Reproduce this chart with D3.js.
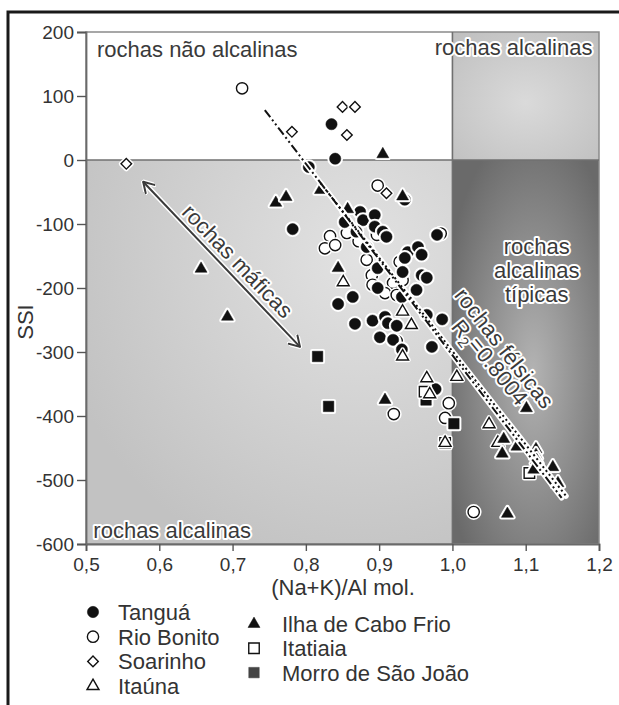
<!DOCTYPE html>
<html>
<head>
<meta charset="utf-8">
<script src="https://cdn.jsdelivr.net/npm/d3@7"></script>
<style>
  body { margin: 0; background: #fff; }
  svg { display: block; font-family: "Liberation Sans", Arial, sans-serif; }
</style>
</head>
<body>
<svg id="chart" width="619" height="705"></svg>
<script>
// tick values
const xTicks = [0.5, 0.6, 0.7, 0.8, 0.9, 1.0, 1.1, 1.2];
const yTicks = [200, 100, 0, -100, -200, -300, -400, -500, -600];

// samples, [ (Na+K)/Al , SSI ]
const tangua = [
  [0.835, 56], [0.840, 2], [0.804, -11], [0.782, -108], [0.874, -81], [0.878, -94],
  [0.894, -86], [0.894, -104], [0.905, -112], [0.910, -120], [0.853, -97], [0.869, -112],
  [0.935, -62], [0.979, -117], [0.883, -136], [0.939, -144], [0.953, -136], [0.958, -148],
  [0.935, -153], [0.898, -169], [0.932, -175], [0.958, -180], [0.965, -184], [0.898, -200],
  [0.931, -214], [0.951, -203], [0.844, -225], [0.864, -214], [0.867, -256], [0.891, -251],
  [0.908, -245], [0.912, -255], [0.924, -259], [0.901, -277], [0.919, -281], [0.931, -296],
  [0.965, -242], [0.986, -249], [0.972, -292], [0.977, -358]
];
const rioBonito = [
  [0.713, 112], [0.898, -40], [0.856, -114], [0.833, -119], [0.826, -138], [0.840, -133],
  [0.872, -127], [0.897, -117], [0.984, -115], [0.883, -156], [0.928, -159], [0.890, -180],
  [0.891, -195], [0.919, -192], [0.932, -188], [0.908, -208], [0.924, -211], [0.924, -283],
  [0.920, -397], [0.995, -380], [0.990, -403], [1.029, -550]
];
const soarinho = [
  [0.555, -6], [0.781, 44], [0.850, 83], [0.867, 83], [0.856, 39], [0.910, -52]
];
const itauna = [
  [0.851, -191], [0.932, -237], [0.944, -258], [0.932, -307], [0.965, -341], [1.006, -339],
  [0.969, -366], [0.990, -442], [1.050, -413], [1.062, -442]
];
const caboFrio = [
  [0.759, -67], [0.773, -58], [0.657, -170], [0.693, -245], [0.905, 9], [0.820, -47],
  [0.857, -77], [0.932, -57], [0.844, -169], [0.908, -375], [1.101, -388], [1.070, -436],
  [1.068, -459], [1.088, -448], [1.114, -452], [1.114, -461], [1.115, -469], [1.111, -484],
  [1.137, -480], [1.144, -505], [1.075, -553]
];
const itatiaia = [
  [0.962, -362], [0.990, -442], [1.105, -489]
];
const morro = [
  [0.816, -307], [0.831, -385], [0.964, -375], [1.002, -412]
];

// trend lines and the mafic arrow
const trendMain = [[0.744, 78], [1.149, -528]];
const trendDotted = [[0.82, -36], [1.155, -525]];
const maficArrow = [[0.578, -34], [0.792, -292]];

const svg = d3.select("#chart");
const x = d3.scaleLinear().domain([0.5, 1.2]).range([86, 599]);
const y = d3.scaleLinear().domain([-600, 200]).range([544, 32]);

const defs = svg.append("defs");
function radial(id, cx, cy, r, stops) {
  const g = defs.append("radialGradient").attr("id", id)
    .attr("cx", cx).attr("cy", cy).attr("r", r);
  stops.forEach(s => g.append("stop").attr("offset", s[0]).attr("stop-color", s[1]));
}
radial("gLL", "75%", "25%", "85%", [[0, "#e2e2e2"], [1, "#c2c2c2"]]);
radial("gUR", "50%", "55%", "70%", [[0, "#dadada"], [1, "#c0c0c0"]]);
radial("gLR", "55%", "55%", "65%", [[0, "#b3b3b3"], [1, "#6a6a6a"]]);

// arrow heads
["halo", "head"].forEach(k => {
  defs.append("marker").attr("id", "m-" + k)
    .attr("viewBox", "0 0 14 14").attr("refX", 12).attr("refY", 7)
    .attr("markerWidth", 14).attr("markerHeight", 14)
    .attr("markerUnits", "userSpaceOnUse")
    .attr("orient", "auto-start-reverse")
    .append("path").attr("d", "M2,1 L12,7 L2,13")
    .attr("fill", "none")
    .attr("stroke", k === "halo" ? "#fff" : "#3a3a3a")
    .attr("stroke-width", k === "halo" ? 4.5 : 2)
    .attr("stroke-linejoin", "round").attr("stroke-linecap", "round");
});

// fields
const bg = svg.append("g");
bg.append("rect").attr("x", x(0.5)).attr("y", y(200)).attr("width", x(1.0) - x(0.5)).attr("height", y(0) - y(200)).attr("fill", "#fff");
bg.append("rect").attr("x", x(1.0)).attr("y", y(200)).attr("width", x(1.2) - x(1.0)).attr("height", y(0) - y(200)).attr("fill", "url(#gUR)");
bg.append("rect").attr("x", x(0.5)).attr("y", y(0)).attr("width", x(1.0) - x(0.5)).attr("height", y(-600) - y(0)).attr("fill", "url(#gLL)");
bg.append("rect").attr("x", x(1.0)).attr("y", y(0)).attr("width", x(1.2) - x(1.0)).attr("height", y(-600) - y(0)).attr("fill", "url(#gLR)");

bg.append("rect").attr("x", x(0.5)).attr("y", y(200)).attr("width", x(1.2) - x(0.5)).attr("height", y(-600) - y(200))
  .attr("fill", "none").attr("stroke", "#8a8a8a").attr("stroke-width", 1.5);
bg.append("line").attr("x1", x(0.5)).attr("x2", x(1.2)).attr("y1", y(0)).attr("y2", y(0))
  .attr("stroke", "#707070").attr("stroke-width", 1.6);
bg.append("line").attr("x1", x(1.0)).attr("x2", x(1.0)).attr("y1", y(200)).attr("y2", y(-600))
  .attr("stroke", "#707070").attr("stroke-width", 1.6);

// axes
const fmt = d => d.toFixed(1).replace(".", ",");
const gx = svg.append("g").attr("transform", `translate(0,${y(-600)})`)
  .call(d3.axisBottom(x).tickValues(xTicks).tickFormat(fmt).tickSize(7).tickPadding(7));
const gy = svg.append("g").attr("transform", `translate(${x(0.5)},0)`)
  .call(d3.axisLeft(y).tickValues(yTicks).tickFormat(d => String(d)).tickSize(9).tickPadding(3));
[gx, gy].forEach(g => {
  g.select(".domain").attr("stroke", "#6a6a6a").attr("stroke-width", 1.8);
  g.selectAll(".tick line").attr("stroke", "#555").attr("stroke-width", 1.4);
  g.selectAll(".tick text").attr("fill", "#333").style("font-size", "19px")
    .style("font-family", "Liberation Sans, Arial, sans-serif");
});

svg.append("text").attr("x", 343).attr("y", 595).attr("text-anchor", "middle")
  .attr("fill", "#333").style("font-size", "22px").text("(Na+K)/Al mol.");
svg.append("text").attr("transform", "translate(33,322) rotate(-90)").attr("text-anchor", "middle")
  .attr("fill", "#333").style("font-size", "22px").text("SSI");

// annotation text with white halo
function label(g, px, py, txt, anchor, rot) {
  const t = g.append("text")
    .attr("transform", `translate(${px},${py})` + (rot ? ` rotate(${rot})` : ""))
    .attr("text-anchor", anchor || "start")
    .attr("fill", "#3a3a3a").attr("stroke", "#fff").attr("stroke-width", 4)
    .attr("stroke-linejoin", "round").attr("paint-order", "stroke")
    .style("font-size", "22px");
  if (txt) t.text(txt);
  return t;
}
const ann = svg.append("g");
label(ann, x(0.515), y(161), "rochas não alcalinas");
label(ann, x(1.191), y(164), "rochas alcalinas", "end");
label(ann, x(0.51), y(-590.6), "rochas alcalinas");
label(ann, x(1.115), y(-147), "rochas", "middle");
label(ann, x(1.115), y(-184), "alcalinas", "middle");
label(ann, x(1.115), y(-222), "típicas", "middle");

// mafic arrow
const arrowLine = d3.line().x(d => x(d[0])).y(d => y(d[1]));
ann.append("path").attr("d", arrowLine(maficArrow)).attr("stroke", "#fff").attr("stroke-width", 5)
  .attr("fill", "none").attr("marker-start", "url(#m-halo)").attr("marker-end", "url(#m-halo)");
ann.append("path").attr("d", arrowLine(maficArrow)).attr("stroke", "#3a3a3a").attr("stroke-width", 2)
  .attr("fill", "none").attr("marker-start", "url(#m-head)").attr("marker-end", "url(#m-head)");
label(ann, x(0.707), y(-158), "rochas máficas", "middle", 46).attr("dy", "0.35em");

// points
const sym = {
  circle: d3.symbol().type(d3.symbolCircle).size(100)(),
  triangle: d3.symbol().type(d3.symbolTriangle).size(62)(),
  square: d3.symbol().type(d3.symbolSquare).size(110)(),
  diamond: d3.symbol().type(d3.symbolSquare).size(56)()
};
const groups = [
  { data: rioBonito, shape: "circle", filled: false },
  { data: tangua, shape: "circle", filled: true },
  { data: soarinho, shape: "diamond", filled: false },
  { data: morro, shape: "square", filled: true },
  { data: itatiaia, shape: "square", filled: false },
  { data: itauna, shape: "triangle", filled: false },
  { data: caboFrio, shape: "triangle", filled: true }
];
const pts = svg.append("g");
groups.forEach(grp => {
  const gg = pts.selectAll(null).data(grp.data).enter().append("g")
    .attr("transform", d => `translate(${x(d[0])},${y(d[1])})` + (grp.shape === "diamond" ? " rotate(45)" : ""));
  gg.append("path").attr("d", sym[grp.shape]).attr("fill", "#fff")
    .attr("stroke", "#fff").attr("stroke-width", 4.5).attr("stroke-linejoin", "round");
  gg.append("path").attr("d", sym[grp.shape])
    .attr("fill", grp.filled ? "#111" : "#fff")
    .attr("stroke", "#111").attr("stroke-width", grp.filled ? 0.5 : 1.4);
});

// trend lines
const tl = svg.append("g");
[trendDotted, trendMain].forEach(seg => {
  tl.append("path").attr("d", arrowLine(seg)).attr("stroke", "#fff").attr("stroke-width", 5.5)
    .attr("stroke-linecap", "round").attr("fill", "none");
});
tl.append("path").attr("d", arrowLine(trendDotted)).attr("stroke", "#111").attr("stroke-width", 2)
  .attr("stroke-dasharray", "2,3").attr("fill", "none");
tl.append("path").attr("d", arrowLine(trendMain)).attr("stroke", "#111").attr("stroke-width", 2)
  .attr("stroke-dasharray", "9,3,2,3,2,3").attr("fill", "none");

label(ann, x(1.071), y(-294), "rochas félsicas", "middle", 52).attr("dy", "0.35em");
const r2 = label(ann, x(1.050), y(-317), null, "middle", 51).attr("dy", "0.35em");
r2.append("tspan").text("R");
r2.append("tspan").attr("dy", "0.3em").style("font-size", "15px").text("2");
r2.append("tspan").attr("dy", "-0.3em").text("=0.8004");
ann.raise();

// legend
const legendLeft = ["Tanguá", "Rio Bonito", "Soarinho", "Itaúna"];
const legendRight = ["Ilha de Cabo Frio", "Itatiaia", "Morro de São João"];
const legendSym = [
  { shape: "circle", filled: true }, { shape: "circle", filled: false },
  { shape: "diamond", filled: false }, { shape: "triangle", filled: false },
  { shape: "triangle", filled: true }, { shape: "square", filled: false },
  { shape: "square", filled: true, color: "#444" }
];
const lg = svg.append("g");
legendLeft.concat(legendRight).forEach((name, i) => {
  const left = i < legendLeft.length;
  const row = left ? i : i - legendLeft.length;
  const sx = left ? 93 : 254;
  const base = left ? 620 + row * 24.7 : 632 + row * 24.3;
  const s = legendSym[i];
  lg.append("path").attr("d", sym[s.shape])
    .attr("transform", `translate(${sx},${base - 8})` + (s.shape === "diamond" ? " rotate(45)" : ""))
    .attr("fill", s.filled ? (s.color || "#111") : "#fff")
    .attr("stroke", s.color || "#111").attr("stroke-width", s.filled ? 0.5 : 1.4);
  lg.append("text").attr("x", left ? 118 : 282).attr("y", base)
    .attr("fill", "#333").style("font-size", "22px").text(name);
});

// outer frame
svg.append("path").attr("d", "M8,705 L8,12 L619,12")
  .attr("fill", "none").attr("stroke", "#1a1a1a").attr("stroke-width", 3);
</script>
</body>
</html>
